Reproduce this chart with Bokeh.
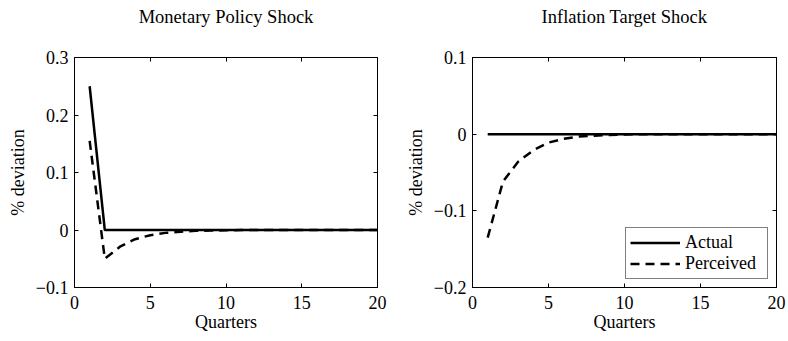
from bokeh.plotting import figure
from bokeh.layouts import row
from bokeh.models import (Range1d, FixedTicker, LinearAxis, CustomJSTickFormatter,
                          Legend, LegendItem)
from bokeh.embed import file_html
from bokeh.resources import INLINE

# Impulse responses, quarters 1..20
quarters = list(range(1, 21))

mp_actual = [0.25] + [0.0] * 19
mp_perceived = [0.155, -0.050, -0.029, -0.016, -0.009, -0.005, -0.003, -0.0015,
                -0.001, -0.0005] + [0.0] * 10

it_actual = [0.0] * 20
it_perceived = [-0.135, -0.062, -0.036, -0.021, -0.011, -0.006, -0.003, -0.002,
                -0.001, -0.0005] + [0.0] * 10

x_ticks = [0, 5, 10, 15, 20]
mp_y_ticks = [-0.1, 0.0, 0.1, 0.2, 0.3]
it_y_ticks = [-0.2, -0.1, 0.0, 0.1]

FONT = "Liberation Serif"
SOLID_W = 2.5
DASH = "9 6"

y_fmt_code = """
if (Math.abs(tick) < 1e-9) return "0";
return (tick < 0 ? "\u2212" : "") + Math.abs(tick).toFixed(1);
"""
blank_code = "return '';"


def style_axis(ax, ticks, fmt_code, label=None, label_size="18px"):
    ax.ticker = FixedTicker(ticks=ticks)
    ax.formatter = CustomJSTickFormatter(code=fmt_code)
    ax.major_tick_in = 4
    ax.major_tick_out = 0
    ax.minor_tick_line_color = None
    ax.axis_line_color = "black"
    ax.major_tick_line_color = "black"
    ax.major_label_text_font = FONT
    ax.major_label_text_font_size = "18px"
    ax.major_label_text_color = "black"
    if label is not None:
        ax.axis_label = label
        ax.axis_label_text_font = FONT
        ax.axis_label_text_font_size = label_size
        ax.axis_label_text_font_style = "normal"
        ax.axis_label_text_color = "black"


def make_panel(title, y_lo, y_hi, y_ticks, border_left, border_right):
    p = figure(width=394, height=341, output_backend="svg", toolbar_location=None,
               x_range=Range1d(0, 20), y_range=Range1d(y_lo, y_hi),
               min_border_left=border_left, min_border_right=border_right,
               min_border_top=57, min_border_bottom=54, title=None)
    p.xgrid.visible = False
    p.ygrid.visible = False
    p.outline_line_color = "black"
    p.outline_line_width = 1
    p.background_fill_color = "white"
    p.border_fill_color = "white"

    style_axis(p.xaxis[0], x_ticks, "return tick.toString();", "Quarters")
    p.xaxis[0].major_label_standoff = 8
    p.xaxis[0].axis_label_standoff = 0
    style_axis(p.yaxis[0], y_ticks, y_fmt_code, "% deviation")
    p.yaxis[0].major_label_standoff = 6
    p.yaxis[0].axis_label_standoff = 5

    # mirrored tick marks on the top edge, carrying the panel title
    top = LinearAxis()
    style_axis(top, x_ticks, blank_code, title, label_size="18.5px")
    top.major_label_text_font_size = "0px"
    top.major_label_standoff = 0
    top.axis_label_standoff = 31
    p.add_layout(top, "above")
    # mirrored tick marks on the right edge
    right = LinearAxis()
    style_axis(right, y_ticks, blank_code)
    right.major_label_text_font_size = "0px"
    right.major_label_standoff = 0
    p.add_layout(right, "right")
    return p


left = make_panel("Monetary Policy Shock", -0.1, 0.3, mp_y_ticks, 74, 17)
left.line(quarters, mp_actual, line_color="black", line_width=SOLID_W)
left.line(quarters, mp_perceived, line_color="black", line_width=SOLID_W, line_dash=DASH)

right = make_panel("Inflation Target Shock", -0.2, 0.1, it_y_ticks, 78, 12)
r_act = right.line(quarters, it_actual, line_color="black", line_width=SOLID_W)
r_per = right.line(quarters, it_perceived, line_color="black", line_width=SOLID_W,
                   line_dash=DASH)

legend = Legend(items=[LegendItem(label="Actual", renderers=[r_act]),
                       LegendItem(label="Perceived", renderers=[r_per])],
                location="bottom_right")
legend.label_text_font = FONT
legend.label_text_font_size = "18px"
legend.label_text_color = "black"
legend.border_line_color = "black"
legend.border_line_width = 1
legend.background_fill_color = "white"
legend.background_fill_alpha = 1.0
legend.glyph_width = 50
legend.glyph_height = 19
legend.label_height = 19
legend.label_width = 78
legend.label_standoff = 5
legend.padding = 4
legend.spacing = 0
legend.margin = 8
right.add_layout(legend, "center")

layout = row(left, right, spacing=0)

with open("out.html", "w") as f:
    f.write(file_html(layout, INLINE))
